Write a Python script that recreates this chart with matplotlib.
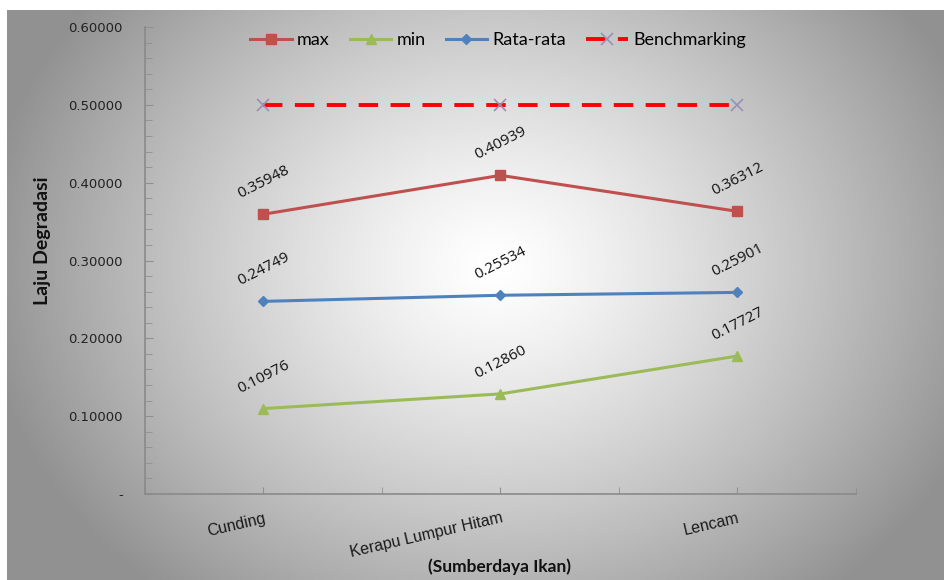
import numpy as np
import matplotlib.pyplot as plt
from matplotlib.ticker import FixedLocator, MultipleLocator

categories = ['Cunding', 'Kerapu Lumpur Hitam', 'Lencam']
max_vals = [0.35948, 0.40939, 0.36312]
min_vals = [0.10976, 0.12860, 0.17727]
avg_vals = [0.24749, 0.25534, 0.25901]
bench_vals = [0.5, 0.5, 0.5]
yticks = [0, 0.1, 0.2, 0.3, 0.4, 0.5, 0.6]
ytick_labels = ['-', '0.10000', '0.20000', '0.30000', '0.40000', '0.50000', '0.60000']

W, H = 945, 580
fig = plt.figure(figsize=(W / 100, H / 100), dpi=100)

# background: radial gray gradient (white in the middle)
bg = fig.add_axes([7 / W, 0, 1 - 7 / W, 1 - 10 / H], zorder=-10)
gx, gy = np.meshgrid(np.linspace(0, 1, 400), np.linspace(0, 1, 300))
r = np.sqrt(((gx - 0.52) / 0.55) ** 2 + ((gy - 0.45) / 0.75) ** 2)
shade = 1 - 0.43 * np.clip(r, 0, 1) ** 1.25
bg.imshow(shade, cmap='gray', vmin=0, vmax=1, aspect='auto',
          extent=[0, 1, 0, 1], origin='upper', interpolation='bilinear')
bg.axis('off')

ax = fig.add_axes([145 / W, 86 / H, 711 / W, 467 / H])
ax.patch.set_alpha(0)
x = np.arange(len(categories))

ax.plot(x, max_vals, color='#C0504D', lw=2.2, marker='s', ms=7, label='max', zorder=3)
ax.plot(x, min_vals, color='#9BBB59', lw=2.2, marker='^', ms=7, label='min', zorder=3)
ax.plot(x, avg_vals, color='#4F81BD', lw=2.2, marker='D', ms=5, label='Rata-rata', zorder=3)
ax.plot(x, bench_vals, color='#FF0000', lw=2.8, ls=(0, (5, 3.2)), marker='x', ms=9,
        mec='#9A8FB5', mew=1.2, label='Benchmarking', zorder=3)

for vals in [max_vals, min_vals, avg_vals]:
    for xi, v in zip(x, vals):
        ax.annotate('%.5f' % v, (xi, v), xytext=(0, 23), textcoords='offset points',
                    ha='center', va='center', rotation=27, fontsize=11,
                    family='Open Sans', color='#111111')

ax.set_xlim(-0.5, 2.5)
ax.set_ylim(0, 0.6)
ax.set_yticks(yticks)
ax.set_yticklabels(ytick_labels, family='DejaVu Sans', fontsize=9.5, color='#222222')
ax.yaxis.set_minor_locator(MultipleLocator(0.02))
ax.tick_params(axis='y', which='both', direction='in', length=6, color='#909090', pad=16)
ax.tick_params(axis='y', which='minor', length=5)

ax.set_xticks(x)
ax.set_xticklabels(categories, rotation=13, ha='right', rotation_mode='anchor',
                   family='Liberation Sans', fontsize=11.5, color='#1a1a1a')
ax.xaxis.set_minor_locator(FixedLocator([-0.5, 0.5, 1.5, 2.5]))
ax.tick_params(axis='x', which='both', direction='in', length=5, color='#909090', pad=12)

for s in ['top', 'right']:
    ax.spines[s].set_visible(False)
for s in ['left', 'bottom']:
    ax.spines[s].set_color('#8a8a8a')
    ax.spines[s].set_linewidth(1.2)

fig.text(43 / W, 1 - 241 / H, 'Laju Degradasi', rotation=90, ha='center', va='center',
         family='Lato', fontweight='bold', fontsize=14, color='#111111')
fig.text(500 / W, 1 - 567 / H, '(Sumberdaya Ikan)', ha='center', va='center',
         family='Lato', fontweight='bold', fontsize=12.5, color='#111111')

leg = ax.legend(loc='upper center', bbox_to_anchor=(498 / W, 1 - 25 / H),
                bbox_transform=fig.transFigure, ncol=4, frameon=False,
                prop={'family': 'Lato', 'size': 13}, handlelength=2.3,
                columnspacing=1.1, handletextpad=0.3, borderaxespad=0)

fig.savefig('out.png', dpi=100)
